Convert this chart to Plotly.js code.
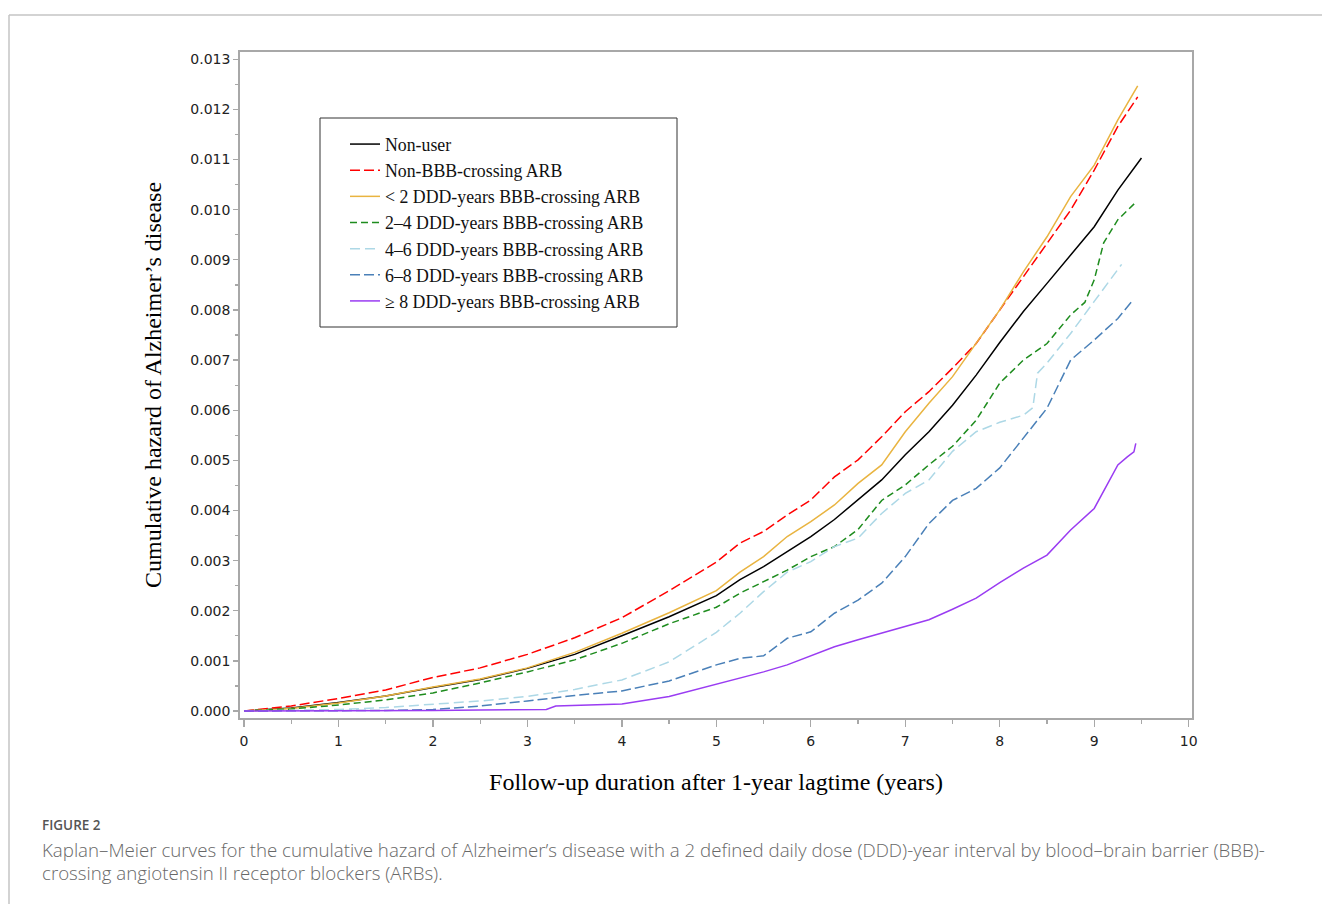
<!DOCTYPE html>
<html><head><meta charset="utf-8">
<script src="https://cdn.plot.ly/plotly-3.0.1.min.js"></script>
<style>html,body{margin:0;padding:0;background:#fff;} #chart{width:1322px;height:904px;}</style>
</head><body><div id="chart"></div>
<script>
// ---- data ----
const seriesNames = [
  "Non-user",
  "Non-BBB-crossing ARB",
  "< 2 DDD-years BBB-crossing ARB",
  "2\u20134 DDD-years BBB-crossing ARB",
  "4\u20136 DDD-years BBB-crossing ARB",
  "6\u20138 DDD-years BBB-crossing ARB",
  "\u2265 8 DDD-years BBB-crossing ARB"
];

const nonUserYears = [0,0.5,1,1.5,2,2.5,3,3.5,4,4.5,5,5.25,5.5,5.75,6,6.25,6.5,6.75,7,7.25,7.5,7.75,8,8.25,8.5,8.75,9,9.25,9.5];
const nonUserHazard = [0,0.00006,0.00017,0.0003,0.00047,0.00063,0.00085,0.00113,0.0015,0.00188,0.0023,0.00262,0.00288,0.00318,0.00348,0.00382,0.00421,0.00461,0.00511,0.00557,0.0061,0.0067,0.00735,0.00797,0.00853,0.0091,0.00966,0.01039,0.01103];

const nonBbbYears = [0,0.5,1,1.5,2,2.5,3,3.5,4,4.5,5,5.25,5.5,5.75,6,6.25,6.5,6.75,7,7.25,7.5,7.75,8,8.25,8.5,8.75,9,9.25,9.46];
const nonBbbHazard = [0,0.0001,0.00025,0.00042,0.00067,0.00086,0.00113,0.00146,0.00186,0.0024,0.00297,0.00335,0.00358,0.00391,0.00421,0.00467,0.00501,0.00547,0.00597,0.00637,0.00684,0.00733,0.008,0.00866,0.00933,0.00999,0.01079,0.01166,0.01225];

const lt2Years = [0,0.5,1,1.5,2,2.5,3,3.5,4,4.5,5,5.25,5.5,5.75,6,6.25,6.5,6.75,7,7.25,7.5,7.75,8,8.25,8.5,8.75,9,9.25,9.46];
const lt2Hazard = [0,0.00005,0.00016,0.0003,0.00048,0.00064,0.00086,0.00117,0.00155,0.00196,0.0024,0.00277,0.00308,0.00348,0.00378,0.00411,0.00454,0.00491,0.00557,0.00614,0.00667,0.00733,0.008,0.00876,0.00946,0.01026,0.01089,0.01179,0.01247];

const d24Years = [0,0.5,1,1.5,2,2.5,3,3.5,4,4.5,5,5.25,5.5,5.75,6,6.25,6.5,6.75,7,7.25,7.5,7.75,8,8.25,8.5,8.75,8.9,9,9.1,9.25,9.43];
const d24Hazard = [0,0.00004,0.00012,0.00022,0.00036,0.00056,0.00078,0.00102,0.00135,0.00174,0.00207,0.00235,0.00258,0.00281,0.00308,0.00328,0.00362,0.0042,0.00451,0.00491,0.00528,0.0058,0.00654,0.007,0.00733,0.0079,0.00815,0.0086,0.00934,0.0098,0.01013];

const d46Years = [0,0.5,1,1.5,2,2.5,3,3.5,4,4.5,5,5.25,5.5,5.75,6,6.25,6.5,6.75,7,7.25,7.5,7.75,8,8.25,8.35,8.4,8.5,8.75,9,9.29];
const d46Hazard = [0,0.00001,0.00003,0.00007,0.00013,0.0002,0.00029,0.00043,0.00062,0.00098,0.00157,0.00195,0.00238,0.00277,0.00298,0.00328,0.00345,0.00394,0.00434,0.00461,0.00518,0.00557,0.00576,0.0059,0.00605,0.00674,0.00694,0.00753,0.00817,0.00891];

const d68Years = [0,0.5,1,1.5,2,2.5,3,3.5,4,4.5,5,5.25,5.5,5.75,6,6.25,6.5,6.75,7,7.25,7.5,7.75,8,8.25,8.5,8.75,9,9.25,9.41];
const d68Hazard = [0,0,0.00001,0.00001,0.00003,0.0001,0.0002,0.00031,0.0004,0.0006,0.00092,0.00105,0.0011,0.00145,0.00158,0.00195,0.00221,0.00255,0.00308,0.00374,0.0042,0.00444,0.00485,0.00545,0.00604,0.007,0.0074,0.00783,0.0082];

const ge8Years = [0,0.5,1,1.5,2,2.5,3,3.2,3.3,3.5,4,4.5,5,5.25,5.5,5.75,6,6.25,6.5,6.75,7,7.25,7.5,7.75,8,8.25,8.5,8.75,9,9.25,9.35,9.42,9.44];
const ge8Hazard = [0,0,0,0.00001,0.00001,0.00002,0.00002,0.00003,0.0001,0.00011,0.00014,0.00029,0.00054,0.00065,0.00078,0.00092,0.0011,0.00128,0.00142,0.00155,0.00168,0.00182,0.00203,0.00225,0.00256,0.00285,0.00311,0.00361,0.00404,0.00491,0.00507,0.00517,0.00534];

const xTickVals = [0,1,2,3,4,5,6,7,8,9,10];
const yTickVals = [0,0.001,0.002,0.003,0.004,0.005,0.006,0.007,0.008,0.009,0.010,0.011,0.012,0.013];
const yTickText = ["0.000","0.001","0.002","0.003","0.004","0.005","0.006","0.007","0.008","0.009","0.010","0.011","0.012","0.013"];

// ---- styling ----
const styles = [
  {color:"#000000", dash:"solid"},
  {color:"#ff0000", dash:"10px,4px"},
  {color:"#e9b440", dash:"solid"},
  {color:"#1e8c1e", dash:"7px,4px"},
  {color:"#add8e6", dash:"10px,5px"},
  {color:"#4a80b8", dash:"10px,4px"},
  {color:"#9a3cf2", dash:"solid"}
];
const xs = [nonUserYears, nonBbbYears, lt2Years, d24Years, d46Years, d68Years, ge8Years];
const ys = [nonUserHazard, nonBbbHazard, lt2Hazard, d24Hazard, d46Hazard, d68Hazard, ge8Hazard];

const traces = seriesNames.map((n,i)=>({
  type:"scatter", mode:"lines", name:n, x:xs[i], y:ys[i],
  line:{color:styles[i].color, dash:styles[i].dash, width:1.5, shape:"linear"},
  hoverinfo:"skip"
}));

const W=1322, H=904, L=240, R=130, T=52, B=186;
const pw = W-L-R, ph = H-T-B;
const px = p => (p-L)/pw;
const py = p => (H-B-p)/ph;

const tickFont = {family:"DejaVu Sans, sans-serif", size:14, color:"#222"};
const titleFont = {family:"Liberation Serif, Times New Roman, serif", size:24, color:"#000"};
const captionFont = {family:"Open Sans, sans-serif", size:18.7, color:"#686868", weight:300};

const layout = {
  width:W, height:H,
  margin:{l:L, r:R, t:T, b:B, pad:0},
  paper_bgcolor:"#fff", plot_bgcolor:"#fff",
  showlegend:true,
  legend:{
    x:px(345), y:py(126), xanchor:"left", yanchor:"top",
    bgcolor:"rgba(0,0,0,0)", borderwidth:0,
    font:{family:"Liberation Serif, Times New Roman, serif", size:17.8, color:"#111"},
    itemwidth:30, traceorder:"normal", tracegroupgap:0
  },
  xaxis:{
    range:[-4/94.47, (pw-4)/94.47],
    tickvals:xTickVals, ticktext:xTickVals.map(String),
    ticks:"outside", ticklen:7, tickwidth:1.3, tickcolor:"#a8a8a8",
    minor:{dtick:0.5, tick0:0, ticks:"outside", ticklen:4, tickwidth:1.3, tickcolor:"#a8a8a8", showgrid:false},
    showline:true, linecolor:"#a8a8a8", linewidth:1.8, mirror:true,
    showgrid:false, zeroline:false, tickfont:tickFont, ticklabelstandoff:2,
    automargin:true,
    title:{text:"Follow-up duration after 1-year lagtime (years)", font:titleFont, standoff:26}
  },
  yaxis:{
    range:[-7/50.13*0.001, 0.013+7.3/50.13*0.001],
    tickvals:yTickVals, ticktext:yTickText,
    ticks:"outside", ticklen:5, tickwidth:1.3, tickcolor:"#a8a8a8",
    minor:{dtick:0.0005, tick0:0, ticks:"outside", ticklen:3, tickwidth:1.3, tickcolor:"#a8a8a8", showgrid:false},
    showline:true, linecolor:"#a8a8a8", linewidth:1.8, mirror:true,
    showgrid:false, zeroline:false, tickfont:tickFont,
    automargin:true,
    title:{text:"Cumulative hazard of Alzheimer\u2019s disease", font:titleFont, standoff:22}
  },
  shapes:[
    {type:"rect", xref:"paper", yref:"paper", x0:px(320), x1:px(677), y0:py(327), y1:py(118),
     line:{color:"#333", width:1}, fillcolor:"rgba(0,0,0,0)", layer:"above"},
    {type:"line", xref:"paper", yref:"paper", x0:px(9), x1:px(1330), y0:py(15), y1:py(15),
     line:{color:"#c4c4c4", width:1.5}},
    {type:"line", xref:"paper", yref:"paper", x0:px(9), x1:px(9), y0:py(15), y1:py(910),
     line:{color:"#c4c4c4", width:1.5}}
  ],
  annotations:[
    {xref:"paper", yref:"paper", x:px(40), y:py(825), xanchor:"left", yanchor:"middle", showarrow:false,
     text:"FIGURE 2", font:{family:"Open Sans, sans-serif", size:13.5, color:"#555", weight:600}},
    {xref:"paper", yref:"paper", x:px(40), y:py(849), xanchor:"left", yanchor:"middle", showarrow:false,
     text:"Kaplan\u2013Meier curves for the cumulative hazard of Alzheimer\u2019s disease with a 2 defined daily dose (DDD)-year interval by blood\u2013brain barrier (BBB)-",
     font:captionFont},
    {xref:"paper", yref:"paper", x:px(40), y:py(872), xanchor:"left", yanchor:"middle", showarrow:false,
     text:"crossing angiotensin II receptor blockers (ARBs).",
     font:captionFont}
  ],
  hovermode:false
};

Plotly.newPlot("chart", traces, layout, {displayModeBar:false, staticPlot:true});
</script>
</body></html>
